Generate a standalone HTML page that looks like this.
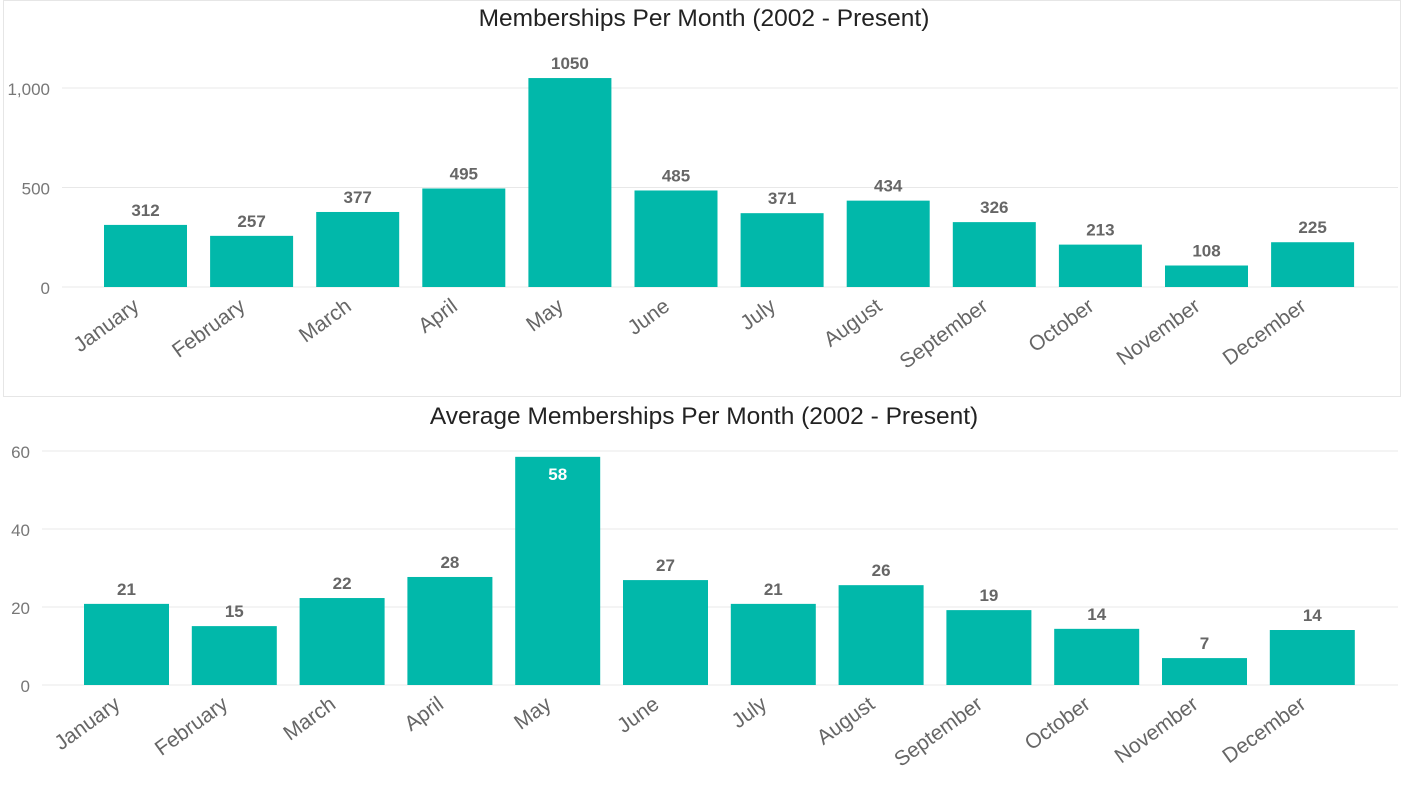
<!DOCTYPE html>
<html><head><meta charset="utf-8"><style>
body{margin:0;background:#fff;width:1403px;height:792px;overflow:hidden;font-family:"Liberation Sans",sans-serif}
</style></head><body>
<svg id="svg" width="1403" height="792">
<rect x="3.5" y="0.5" width="1397" height="396" fill="none" stroke="#e6e6e6"/>
<text x="704" y="26" text-anchor="middle" font-size="24.5" fill="#222">Memberships Per Month (2002 - Present)</text>
<text x="704" y="424" text-anchor="middle" font-size="24.5" fill="#222">Average Memberships Per Month (2002 - Present)</text>
</svg>
<script>
const months=["January","February","March","April","May","June","July","August","September","October","November","December"];
const totals=[312,257,377,495,1050,485,371,434,326,213,108,225];
const topTicks=[0,500,1000];
const topTickLabels=["0","500","1,000"];
const avgs=[20.8,15.1,22.3,27.7,58.5,26.9,20.8,25.6,19.2,14.4,6.9,14.1];
const avgLabels=["21","15","22","28","58","27","21","26","19","14","7","14"];
const botTicks=[0,20,40,60];
const botTickLabels=["0","20","40","60"];
const svg=document.getElementById('svg');
const NS="http://www.w3.org/2000/svg";
function mk(tag,attrs,txt){const e=document.createElementNS(NS,tag);for(const k in attrs)e.setAttribute(k,attrs[k]);if(txt!==undefined)e.textContent=txt;svg.appendChild(e);return e;}
function chart(p){
  const y=v=>p.y0-v*p.scale;
  const x=i=>p.c0+i*p.step;
  p.ticks.forEach((t,i)=>{
    const g=mk('line',{x1:p.gx0,x2:p.gx1,y1:y(t),y2:y(t),stroke:'#e8e8e8','stroke-width':1});
    
    
    const l=mk('text',{x:p.tx,y:y(t)+7,'text-anchor':'end','font-size':17,fill:'#777'},p.tickLabels[i]);
    
    
  });
  p.vals.forEach((v,i)=>{
    const b=mk('rect',{x:x(i)-p.bw/2,y:y(v),width:p.bw,height:p.y0-y(v),fill:'#01b8aa'});
    
    
    const inside=p.inside&&p.inside(v);
    const t=mk('text',{x:x(i),y:inside?y(v)+23:y(v)-9,'text-anchor':'middle','font-size':17,'font-weight':'bold',fill:inside?'#fff':'#666'},p.labels[i]);
    
    
    const ax=x(i)-5, ay=p.y0+22;
    const m=mk('text',{x:ax,y:ay,'text-anchor':'end','font-size':21,fill:'#666',transform:`rotate(-36 ${ax} ${ay})`},months[i]);
    
    
  });
}
chart({id:'top',vals:totals,labels:totals.map(String),ticks:topTicks,tickLabels:topTickLabels,y0:287,scale:199/1000,c0:145.5,step:106.1,bw:83,gx0:62,gx1:1398,tx:50});
chart({id:'bottom',vals:avgs,labels:avgLabels,ticks:botTicks,tickLabels:botTickLabels,y0:685,scale:78/20,c0:126.5,step:107.8,bw:85,gx0:42,gx1:1398,tx:30,inside:v=>v>50});
</script>
</body></html>
